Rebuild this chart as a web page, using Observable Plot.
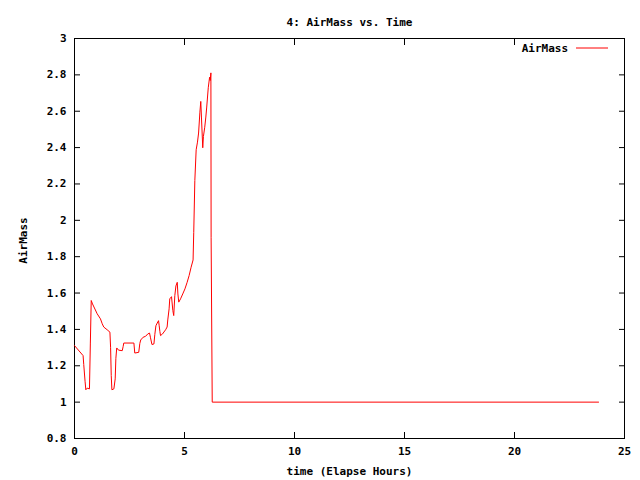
<!DOCTYPE html>
<html><head><meta charset="utf-8">
<script src="https://cdn.jsdelivr.net/npm/d3@7"></script>
<script src="https://cdn.jsdelivr.net/npm/@observablehq/plot@0.6"></script>
<style>body{margin:0;background:#fff}</style>
</head><body><div id="chart"></div>
<script>
const title = "4: AirMass vs. Time";
const xLabel = "time (Elapse Hours)";
const yLabel = "AirMass";
const seriesName = "AirMass";
const time = [0,0.39,0.42,0.48,0.515,0.576,0.68,0.72,0.76,0.82,1.03,1.18,1.26,1.33,1.485,1.61,1.64,1.67,1.70,1.79,1.85,1.88,1.92,2.0,2.17,2.21,2.24,2.70,2.74,2.92,2.97,3.01,3.12,3.23,3.33,3.41,3.45,3.52,3.61,3.65,3.70,3.76,3.82,3.85,3.88,3.91,4.0,4.14,4.21,4.24,4.30,4.33,4.41,4.47,4.51,4.56,4.61,4.67,4.70,4.74,4.82,4.92,5.02,5.12,5.21,5.30,5.39,5.42,5.47,5.53,5.59,5.64,5.70,5.74,5.77,5.83,5.86,5.92,5.97,6.01,6.08,6.14,6.17,6.20,6.21,6.26,23.82];
const airmass = [1.311,1.256,1.207,1.115,1.068,1.077,1.073,1.32,1.559,1.54,1.486,1.458,1.431,1.413,1.398,1.385,1.302,1.146,1.068,1.073,1.128,1.241,1.298,1.286,1.283,1.305,1.325,1.325,1.27,1.274,1.323,1.342,1.357,1.362,1.375,1.38,1.357,1.317,1.32,1.371,1.42,1.435,1.448,1.42,1.389,1.366,1.375,1.398,1.413,1.452,1.513,1.568,1.58,1.504,1.476,1.586,1.639,1.659,1.595,1.55,1.568,1.595,1.623,1.659,1.696,1.742,1.782,1.934,2.219,2.388,2.43,2.48,2.595,2.654,2.568,2.399,2.461,2.512,2.568,2.623,2.729,2.787,2.769,2.811,1.907,1.0,1.0];
const xTicks = [0,5,10,15,20,25];
const yTicks = [0.8,1,1.2,1.4,1.6,1.8,2,2.2,2.4,2.6,2.8,3];
const data = time.map((t,i)=>({t, v: airmass[i]}));

const font = "DejaVu Sans Mono, monospace";
const chart = Plot.plot({
  width: 640, height: 480,
  marginLeft: 74, marginRight: 16, marginTop: 38, marginBottom: 42,
  style: {fontFamily: font, fontSize: "11px", fontWeight: "bold", color: "#000", background: "#fff"},
  x: {domain: [0,25]},
  y: {domain: [0.8,3]},
  marks: [
    Plot.frame({stroke: "#000"}),
    Plot.axisX(xTicks, {anchor: "bottom", tickSize: -6, tickPadding: 15, label: xLabel, labelAnchor: "center", labelArrow: "none", labelOffset: 36, tickFormat: d => String(d)}),
    Plot.axisX(xTicks, {anchor: "top", tickSize: -6, tickFormat: () => "", label: null}),
    Plot.axisY(yTicks, {anchor: "left", tickSize: -6, tickPadding: 14, label: null, tickFormat: d => String(d)}),
    Plot.axisY(yTicks, {anchor: "right", tickSize: -6, tickFormat: () => "", label: null}),
    Plot.text([title], {frameAnchor: "top", dy: -20, fontSize: 11}),
    Plot.text([yLabel], {frameAnchor: "left", dx: -51, dy: 2, rotate: -90, textAnchor: "middle", fontSize: 11}),
    Plot.line(data, {x: "t", y: "v", stroke: "red", strokeWidth: 1})
  ]
});
const svg = d3.select(chart);
svg.append("text").attr("x", 568).attr("y", 52).attr("text-anchor", "end").attr("font-family", font).attr("font-weight", "bold").attr("font-size", 11).text(seriesName);
svg.append("line").attr("x1", 576).attr("x2", 608).attr("y1", 48).attr("y2", 48).attr("stroke", "red");
document.getElementById("chart").appendChild(chart);
</script></body></html>
